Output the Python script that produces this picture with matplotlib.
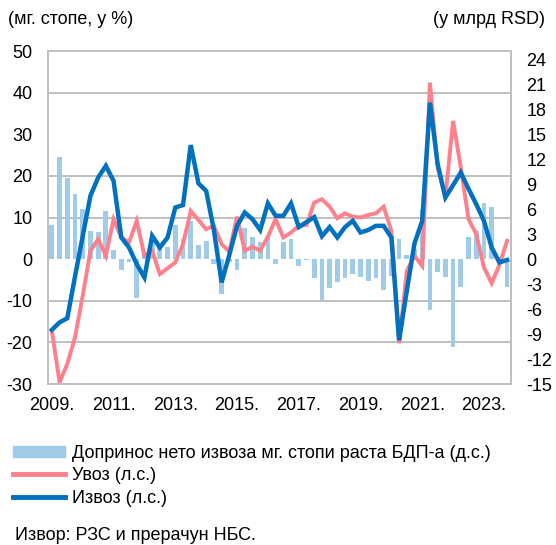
import numpy as np
import matplotlib
matplotlib.use("Agg")
import matplotlib.pyplot as plt
from matplotlib.patches import Rectangle
from matplotlib.lines import Line2D
from matplotlib.ticker import FixedLocator

plt.rcParams['font.family'] = ['Liberation Sans', 'DejaVu Sans']
plt.rcParams['font.size'] = 13
plt.rcParams['axes.unicode_minus'] = False

# quarterly data, 2009 Q1 - 2023 Q4
years = np.arange(2009, 2024)
quarters = len(years) * 4

# contribution of net exports to y-o-y GDP growth (right scale, bn RSD)
net_exports = [4.1, 12.3, 9.7, 7.8, 6.0, 3.4, 3.2, 5.8,
               1.1, -1.3, -0.4, -4.7, 0.6, 2.4, 1.8, 1.4,
               4.1, 2.4, 4.6, 1.7, 2.2, -0.6, -4.2, -0.4,
               -1.3, 3.7, 2.7, 2.0, 2.6, -0.6, 2.0, 2.4,
               -0.8, -0.1, -2.3, -4.9, -3.5, -2.7, -2.3, -1.8,
               -2.1, -2.6, -2.3, -3.7, -2.0, 2.4, 0.5, 1.2,
               6.0, -6.1, -1.6, -2.1, -10.5, -3.3, 2.7, 3.4,
               6.8, 6.3, 0.3, -3.3]

# imports, y-o-y growth (left scale, %)
imports = [-17.2, -29.6, -25.2, -18.8, -8.8, 2.0, 4.8, 0.8,
           9.6, 5.2, 4.0, 9.2, 0.8, 2.0, -3.6, -2.2,
           -0.8, 3.6, 11.6, 9.4, 7.2, 8.0, 3.6, 1.8,
           10.2, 2.0, 3.0, 2.0, 5.4, 9.6, 5.2, 6.4,
           8.0, 8.2, 13.6, 14.4, 12.6, 9.8, 11.0, 10.2,
           10.0, 10.6, 11.0, 12.6, 6.8, -20.2, -2.8, 0.8,
           -1.6, 42.4, 22.0, 14.8, 33.2, 22.0, 9.6, 6.0,
           -2.0, -5.8, -1.4, 4.4]

# exports, y-o-y growth (left scale, %)
exports = [-17.0, -15.2, -14.2, -4.2, 5.5, 15.2, 19.6, 22.4,
           18.8, 5.2, 2.8, -1.2, -4.4, 5.6, 2.8, 5.2,
           12.4, 13.0, 27.4, 18.2, 16.4, 7.0, -5.6, 1.0,
           8.0, 11.2, 9.6, 7.0, 13.4, 10.4, 10.4, 13.4,
           7.7, 8.9, 10.1, 5.5, 7.7, 5.2, 7.7, 9.2,
           6.4, 7.0, 8.0, 8.0, 5.2, -19.5, -7.6, 3.8,
           9.2, 37.6, 22.8, 14.8, 17.8, 20.8, 16.9, 13.2,
           9.2, 2.8, -0.8, -0.2]

tick_labels = [f'{y}.' for y in years[::2]]

BAR = '#A0CCEA'
PINK = '#FF7F8A'
BLUE = '#0070C0'
GRID = '#BFBFBF'

x = np.arange(quarters)

fig = plt.figure(figsize=(5.56, 5.45), dpi=100)
ax = fig.add_axes([0.0863, 0.2954, 0.8327, 0.6110])
ax2 = ax.twinx()

# bars on the right scale, drawn underneath the lines
ax2.bar(x, net_exports, width=0.62, color=BAR, zorder=2)
ax2.set_ylim(-15, 25)
ax2.set_yticks(np.arange(-15, 25, 3))
ax2.yaxis.set_minor_locator(FixedLocator(np.arange(-15, 26, 5)))
ax2.grid(which='minor', axis='y', color=GRID, lw=1.4)
ax2.set_axisbelow(True)
ax2.tick_params(axis='y', which='both', length=0, pad=11)

ax.set_zorder(ax2.get_zorder() + 1)
ax.patch.set_visible(False)
ax.plot(x, imports, color=PINK, lw=2.8, solid_joinstyle='miter')
ax.plot(x, exports, color=BLUE, lw=3.2, solid_joinstyle='miter')
ax.set_ylim(-30, 50)
ax.set_yticks(np.arange(-30, 51, 10))
ax.set_xlim(-0.5, quarters - 0.5)
ax.set_xticks(x[::8])
ax.set_xticklabels(tick_labels)
ax.tick_params(axis='y', length=0, pad=11)
ax.tick_params(axis='x', length=0, pad=9)

for a in (ax, ax2):
    for s in a.spines.values():
        s.set_color(GRID)
        s.set_linewidth(1.4)

fig.text(8 / 556, 1 - 20 / 545, '(мг. стопе, у %)', va='center')
fig.text(545 / 556, 1 - 20 / 545, '(у млрд RSD)', va='center', ha='right')

handles = [Rectangle((0, 0), 1, 1, color=BAR),
           Line2D([], [], color=PINK, lw=3.5),
           Line2D([], [], color=BLUE, lw=3.5)]
labels = ['Допринос нето извоза мг. стопи раста БДП-а (д.с.)',
          'Увоз (л.с.)', 'Извоз (л.с.)']
fig.legend(handles, labels, loc='upper left', bbox_to_anchor=(13 / 556, 1 - 445 / 545),
           frameon=False, handlelength=2.9, handleheight=0.6,
           handletextpad=0.35, labelspacing=0.3, borderpad=0, borderaxespad=0)

fig.text(15 / 556, 1 - 536 / 545, 'Извор: РЗС и прерачун НБС.', va='center')

fig.savefig('out.png', dpi=100)
